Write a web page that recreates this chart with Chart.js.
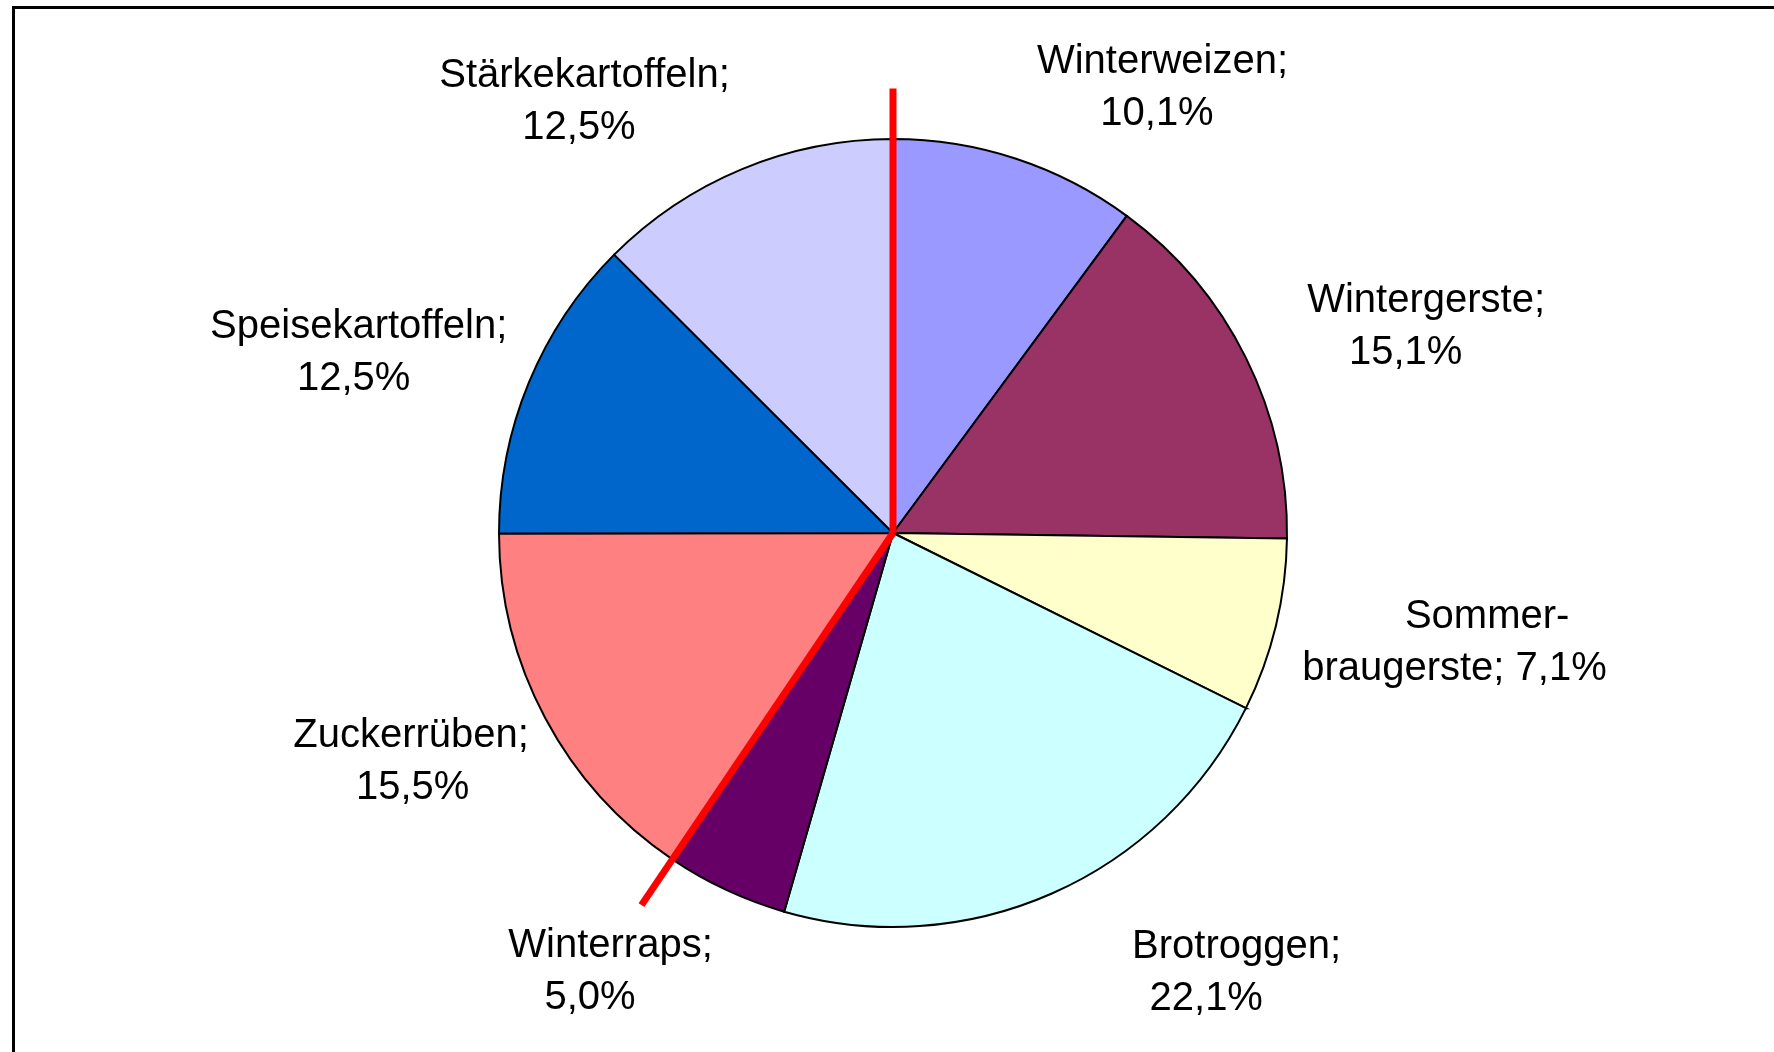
<!DOCTYPE html>
<html>
<head>
<meta charset="utf-8">
<script src="https://cdn.jsdelivr.net/npm/chart.js@4/dist/chart.umd.min.js"></script>
<style>
    html, body { margin: 0; padding: 0; background: #ffffff; overflow: hidden; }
    #wrap { position: relative; width: 1774px; height: 1052px; }
    #frame {
        position: absolute; left: 12px; top: 6px; right: -20px; bottom: -20px;
        border-top: 3px solid #000000; border-left: 3px solid #000000;
        pointer-events: none;
    }
    canvas { position: absolute; left: 0; top: 0; }
</style>
</head>
<body>
<div id="wrap">
    <canvas id="pie-chart" width="1774" height="1052"></canvas>
    <div id="frame"></div>
</div>
<script>
// Chart data (clockwise from 12 o'clock)
const categories = [
    'Winterweizen',
    'Wintergerste',
    'Sommer\u00ADbraugerste',
    'Brotroggen',
    'Winterraps',
    'Zuckerrüben',
    'Speisekartoffeln',
    'Stärkekartoffeln'
];
const shares = [10.1, 15.1, 7.1, 22.1, 5.0, 15.5, 12.5, 12.5];
const sliceColors = ['#9999FF', '#993366', '#FFFFCC', '#CCFFFF', '#660066', '#FF8080', '#0066CC', '#CCCCFF'];

// red marker lines: start of first slice and end of Winterraps slice
const markerEdges = [
    { index: 0, edge: 'startAngle', reach: 1.128 },
    { index: 4, edge: 'endAngle', reach: 1.14 }
];

// label placement relative to pie centre, in units of the radius
// [line-1 centre x, block centre y, line-2 x shift]
const labelPlacement = [
    [0.684, -1.129, -0.014],
    [1.353, -0.522, -0.052],
    [1.508, 0.279, -0.083],
    [0.872, 1.117, -0.077],
    [-0.717, 1.113, -0.052],
    [-1.223, 0.580, 0.004],
    [-1.356, -0.456, -0.013],
    [-0.783, -1.094, -0.014]
];

function formatLabel(name, value) {
    const pct = value.toFixed(1).replace('.', ',') + '%';
    if (name.includes('\u00AD')) {
        const parts = name.split('\u00AD');
        return [parts[0] + '-', parts[1] + '; ' + pct];
    }
    return [name + ';', pct];
}

const overlayPlugin = {
    id: 'overlay',
    afterDatasetsDraw(chart) {
        const ctx = chart.ctx;
        const arcs = chart.getDatasetMeta(0).data;
        const cx = arcs[0].x;
        const cy = arcs[0].y;
        const r = arcs[0].outerRadius;

        // red marker lines
        ctx.save();
        ctx.strokeStyle = '#FF0000';
        ctx.lineWidth = 7;
        ctx.lineCap = 'butt';
        markerEdges.forEach(m => {
            const a = arcs[m.index][m.edge];
            const len = r * m.reach;
            ctx.beginPath();
            ctx.moveTo(cx, cy);
            ctx.lineTo(cx + Math.cos(a) * len, cy + Math.sin(a) * len);
            ctx.stroke();
        });
        ctx.restore();

        // data labels
        ctx.save();
        ctx.fillStyle = '#000000';
        ctx.font = '40px "Liberation Sans", Arial, sans-serif';
        ctx.textAlign = 'center';
        ctx.textBaseline = 'middle';
        const lineHeight = 52;
        categories.forEach((name, i) => {
            const lines = formatLabel(name, shares[i]);
            const p = labelPlacement[i];
            const x1 = cx + p[0] * r;
            const yMid = cy + p[1] * r;
            const x2 = x1 + p[2] * r;
            ctx.fillText(lines[0], x1, yMid - lineHeight / 2);
            ctx.fillText(lines[1], x2, yMid + lineHeight / 2);
        });
        ctx.restore();
    }
};

const pieCtx = document.getElementById('pie-chart').getContext('2d');

const pieChart = new Chart(pieCtx, {
    type: 'pie',
    data: {
        labels: categories,
        datasets: [{
            data: shares,
            backgroundColor: sliceColors,
            borderColor: '#000000',
            borderWidth: 2,
            borderJoinStyle: 'miter'
        }]
    },
    options: {
        responsive: false,
        animation: false,
        layout: {
            padding: { left: 498, right: 486, top: 138, bottom: 124 }
        },
        plugins: {
            legend: { display: false },
            tooltip: { enabled: false }
        }
    },
    plugins: [overlayPlugin]
});
</script>
</body>
</html>
